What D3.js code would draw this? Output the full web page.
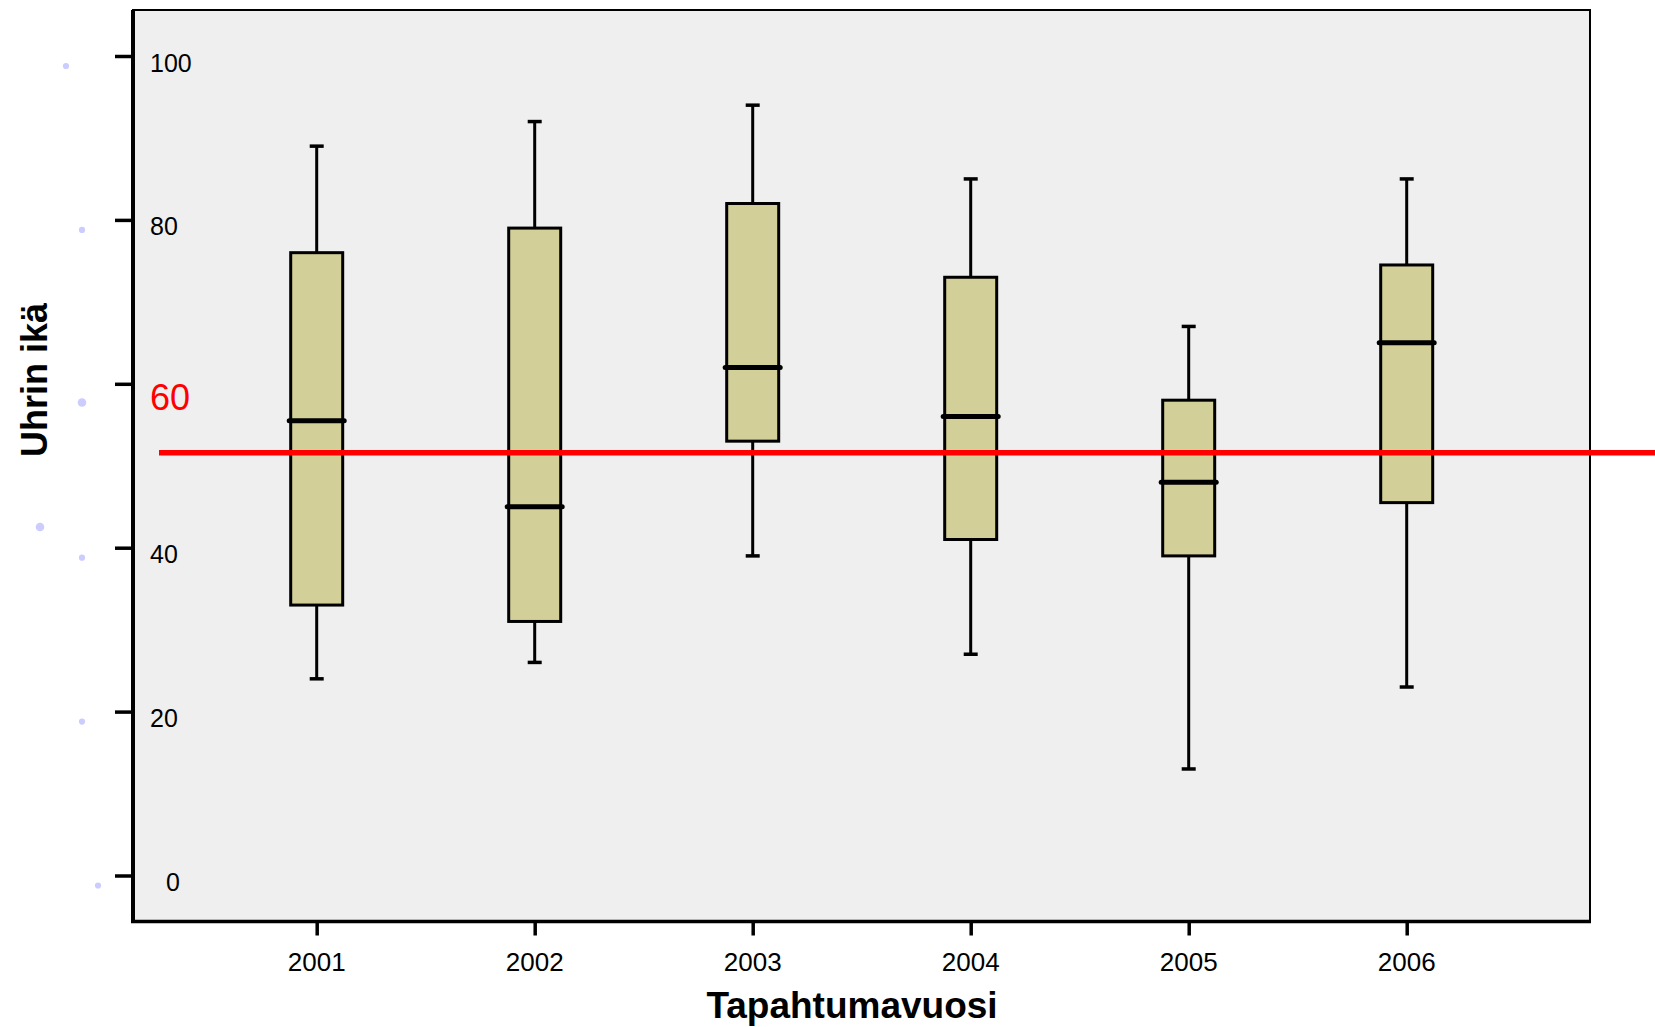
<!DOCTYPE html>
<html lang="fi">
<head>
    <meta charset="UTF-8">
    <title>Uhrin ikä tapahtumavuosittain</title>
    <script src="https://d3js.org/d3.v7.min.js"></script>
    <style>
        body { margin: 0; background: #ffffff; }
        text { font-family: "Liberation Sans", Arial, sans-serif; }
    </style>
</head>
<body>
<script>
    // box plot values per year
    var years   = ["2001", "2002", "2003", "2004", "2005", "2006"];
    var mins    = [24, 26, 39, 27, 13, 23];
    var q1s     = [33, 31, 53, 41, 39, 45.5];
    var medians = [55.5, 45, 62, 56, 48, 65];
    var q3s     = [76, 79, 82, 73, 58, 74.5];
    var maxs    = [89, 92, 94, 85, 67, 85];

    var yTicks = [0, 20, 40, 60, 80, 100];
    var refValue = 51.6;   // red reference line
    var highlightTick = 60;

    var w = 1655;
    var h = 1027;

    var plot = { left: 133, right: 1590, top: 10, bottom: 921.5 };

    var svg = d3.select("body")
                .append("svg")
                .attr("width", w)
                .attr("height", h);

    var xScale = d3.scalePoint()
                   .domain(years)
                   .range([316.7, 1406.7]);

    var yScale = d3.scaleLinear()
                   .domain([0, 100])
                   .range([875.5, 56]);

    // plot background
    svg.append("rect")
       .attr("x", plot.left)
       .attr("y", plot.top)
       .attr("width", plot.right - plot.left)
       .attr("height", plot.bottom - plot.top)
       .attr("fill", "#efefef")
       .attr("stroke", "#000")
       .attr("stroke-width", 2);

    var boxes = years.map(function(y, i) {
        return { year: y, min: mins[i], q1: q1s[i], med: medians[i], q3: q3s[i], max: maxs[i] };
    });

    var boxW = 52;
    var capW = 14;

    var g = svg.selectAll("g.box")
               .data(boxes)
               .enter()
               .append("g")
               .attr("class", "box");

    // whiskers
    g.append("line")
     .attr("x1", function(d) { return xScale(d.year); })
     .attr("x2", function(d) { return xScale(d.year); })
     .attr("y1", function(d) { return yScale(d.max); })
     .attr("y2", function(d) { return yScale(d.min); })
     .attr("stroke", "#000")
     .attr("stroke-width", 3);

    g.selectAll("line.cap")
     .data(function(d) { return [d.min, d.max].map(function(v) { return { year: d.year, v: v }; }); })
     .enter()
     .append("line")
     .attr("class", "cap")
     .attr("x1", function(d) { return xScale(d.year) - capW / 2; })
     .attr("x2", function(d) { return xScale(d.year) + capW / 2; })
     .attr("y1", function(d) { return yScale(d.v); })
     .attr("y2", function(d) { return yScale(d.v); })
     .attr("stroke", "#000")
     .attr("stroke-width", 3.5);

    g.append("rect")
     .attr("x", function(d) { return xScale(d.year) - boxW / 2; })
     .attr("y", function(d) { return yScale(d.q3); })
     .attr("width", boxW)
     .attr("height", function(d) { return yScale(d.q1) - yScale(d.q3); })
     .attr("fill", "#d3cf98")
     .attr("stroke", "#000")
     .attr("stroke-width", 3);

    g.append("line")
     .attr("x1", function(d) { return xScale(d.year) - boxW / 2 - 1.5; })
     .attr("x2", function(d) { return xScale(d.year) + boxW / 2 + 1.5; })
     .attr("y1", function(d) { return yScale(d.med); })
     .attr("y2", function(d) { return yScale(d.med); })
     .attr("stroke", "#000")
     .attr("stroke-width", 5)
     .attr("stroke-linecap", "round");

    // red reference line, runs past the plot edge
    svg.append("line")
       .attr("x1", 159)
       .attr("x2", w)
       .attr("y1", yScale(refValue))
       .attr("y2", yScale(refValue))
       .attr("stroke", "#ff0000")
       .attr("stroke-width", 5.5);

    // y axis: ticks outside, labels inside the plot
    var yAxis = d3.axisLeft(yScale)
                  .tickValues(yTicks)
                  .tickSize(18)
                  .tickFormat("");
    var yg = svg.append("g")
                .attr("transform", "translate(" + plot.left + ",0)")
                .call(yAxis);
    yg.select(".domain").remove();
    yg.selectAll(".tick line").attr("stroke", "#000").attr("stroke-width", 3.5);

    svg.append("line")
       .attr("x1", plot.left).attr("x2", plot.left)
       .attr("y1", plot.top).attr("y2", plot.bottom)
       .attr("stroke", "#000").attr("stroke-width", 4);

    var yLab = svg.selectAll("g.ylab")
                  .data(yTicks)
                  .enter()
                  .append("g")
                  .attr("class", "ylab");

    function labSize(d) { return d === highlightTick ? 36 : 25; }
    function labX(d) { return d === 0 ? 166 : 150; }

    yLab.append("text")
        .attr("x", labX)
        .attr("y", function(d) { return yScale(d) + (d === highlightTick ? 26 : 15.5); })
        .attr("font-size", function(d) { return labSize(d) + "px"; })
        .attr("fill", function(d) { return d === highlightTick ? "#ff0000" : "#000"; })
        .text(function(d) { return d; });

    // leftover list bullets beside the labels
    yLab.append("circle")
        .attr("cx", function(d) { return labX(d) - (d === 100 ? 84 : 68); })
        .attr("cy", function(d) { return yScale(d) + labSize(d) * (d === highlightTick ? 0.52 : 0.4); })
        .attr("r", function(d) { return d === highlightTick ? 4.3 : 3.1; })
        .attr("fill", "#ccccff");

    // x axis
    var xAxis = d3.axisBottom(xScale)
                  .tickSize(14)
                  .tickFormat("");
    var xg = svg.append("g")
                .attr("transform", "translate(0," + plot.bottom + ")")
                .call(xAxis);
    xg.select(".domain").remove();
    xg.selectAll(".tick line").attr("stroke", "#000").attr("stroke-width", 3.5);

    svg.append("line")
       .attr("x1", plot.left - 2).attr("x2", plot.right + 1)
       .attr("y1", plot.bottom).attr("y2", plot.bottom)
       .attr("stroke", "#000").attr("stroke-width", 3.5);

    svg.selectAll("text.xlab")
       .data(years)
       .enter()
       .append("text")
       .attr("class", "xlab")
       .attr("x", function(d) { return xScale(d); })
       .attr("y", 971)
       .attr("text-anchor", "middle")
       .attr("font-size", "26px")
       .text(function(d) { return d; });

    // axis titles
    svg.append("text")
       .attr("x", 852)
       .attr("y", 1018)
       .attr("text-anchor", "middle")
       .attr("font-size", "37px")
       .attr("font-weight", "bold")
       .text("Tapahtumavuosi");

    svg.append("text")
       .attr("transform", "translate(47,380) rotate(-90)")
       .attr("text-anchor", "middle")
       .attr("font-size", "36px")
       .attr("font-weight", "bold")
       .text("Uhrin ikä");

    svg.append("circle")
       .attr("cx", 40)
       .attr("cy", 527)
       .attr("r", 4.3)
       .attr("fill", "#ccccff");
</script>
</body>
</html>
